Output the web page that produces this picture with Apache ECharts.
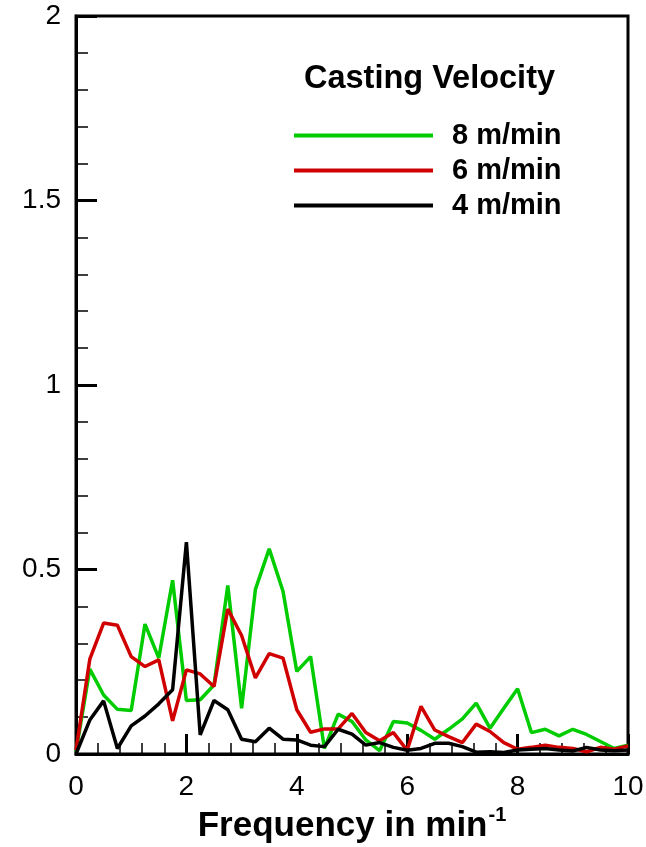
<!DOCTYPE html>
<html>
<head>
<meta charset="utf-8">
<script src="https://cdn.jsdelivr.net/npm/echarts@6/dist/echarts.min.js"></script>
<style>
html,body{margin:0;padding:0;background:#fff;}
#chart{width:646px;height:847px;}
</style>
</head>
<body>
<div id="chart"></div>
<script>
const frequency = [0,0.25,0.5,0.75,1,1.25,1.5,1.75,2,2.25,2.5,2.75,3,3.25,3.5,3.75,4,4.25,4.5,4.75,5,5.25,5.5,5.75,6,6.25,6.5,6.75,7,7.25,7.5,7.75,8,8.25,8.5,8.75,9,9.25,9.5,9.75,10];
const v8 = [0.006,0.23,0.16,0.121,0.118,0.352,0.26,0.471,0.145,0.147,0.187,0.457,0.124,0.446,0.556,0.441,0.224,0.264,0.015,0.108,0.088,0.038,0.009,0.088,0.084,0.064,0.04,0.067,0.095,0.138,0.07,0.124,0.177,0.058,0.067,0.049,0.067,0.053,0.034,0.015,0.024];
const v6 = [0.01,0.257,0.355,0.349,0.264,0.237,0.255,0.09,0.228,0.217,0.183,0.393,0.321,0.206,0.272,0.26,0.12,0.059,0.068,0.068,0.11,0.058,0.036,0.058,0.01,0.129,0.065,0.047,0.031,0.081,0.061,0.031,0.013,0.018,0.024,0.018,0.015,0.006,0.018,0.013,0.022];
const v4 = [0.0,0.092,0.144,0.015,0.076,0.103,0.136,0.174,0.574,0.052,0.145,0.12,0.04,0.033,0.07,0.04,0.038,0.024,0.02,0.067,0.054,0.024,0.031,0.018,0.01,0.015,0.029,0.029,0.02,0.005,0.006,0.004,0.011,0.013,0.015,0.011,0.008,0.018,0.011,0.009,0.011];
const seriesNames = ['8 m/min','6 m/min','4 m/min'];
const seriesColors = ['#00cc00','#d00000','#000000'];
const legendTitle = 'Casting Velocity';
const xTitle = 'Frequency in min';
const xTitleSup = '-1';

const FONT = "'Liberation Sans', Arial, Helvetica, sans-serif";
const pairs = arr => frequency.map((f,i)=>[f,arr[i]]);
const values = [v8, v6, v4];

const chart = echarts.init(document.getElementById('chart'), null, {renderer:'canvas'});
chart.setOption({
  animation:false,
  backgroundColor:'#fff',
  title:{
    text:legendTitle,
    left:304, top:63, padding:0,
    textStyle:{fontFamily:FONT,fontSize:32.5,fontWeight:'bold',color:'#000'}
  },
  legend:{
    orient:'vertical',
    left:294, top:121, padding:0,
    icon:'rect',
    itemWidth:139, itemHeight:4,
    itemGap:6,
    data:seriesNames,
    textStyle:{fontFamily:FONT,fontSize:29,fontWeight:'bold',color:'#000',padding:[0,0,0,14]}
  },
  grid:{left:76,right:18,top:16,bottom:93,show:true,borderColor:'#000',borderWidth:3,containLabel:false,outerBoundsMode:'none'},
  xAxis:{
    type:'value', min:0, max:10, interval:2,
    name:'{a|'+xTitle+'}{b|'+xTitleSup+'}',
    nameLocation:'middle', nameGap:51,
    nameTextStyle:{
      rich:{
        a:{fontFamily:FONT,fontSize:35,fontWeight:'bold',color:'#000',lineHeight:40},
        b:{fontFamily:FONT,fontSize:20,fontWeight:'bold',color:'#000',verticalAlign:'top',lineHeight:20,padding:[0,0,18,1]}
      }
    },
    axisLine:{show:true,lineStyle:{color:'#000',width:3}},
    axisTick:{show:true,inside:true,length:20,lineStyle:{color:'#000',width:3}},
    minorTick:{show:true,splitNumber:5,length:11,lineStyle:{color:'#000',width:1.5}},
    axisLabel:{fontFamily:FONT,fontSize:28,color:'#000',margin:19},
    splitLine:{show:false}
  },
  yAxis:{
    type:'value', min:0, max:2, interval:0.5,
    axisLine:{show:true,lineStyle:{color:'#000',width:3}},
    axisTick:{show:true,inside:true,length:21,lineStyle:{color:'#000',width:3}},
    minorTick:{show:true,splitNumber:5,length:12,lineStyle:{color:'#000',width:1.5}},
    axisLabel:{fontFamily:FONT,fontSize:28,color:'#000',margin:15},
    splitLine:{show:false}
  },
  series: seriesNames.map((n,k)=>({
    name:n, type:'line', data:pairs(values[k]),
    showSymbol:false, symbol:'none',
    color:seriesColors[k],
    lineStyle:{color:seriesColors[k],width:3.5},
    z:2+k
  }))
});
</script>
</body>
</html>
